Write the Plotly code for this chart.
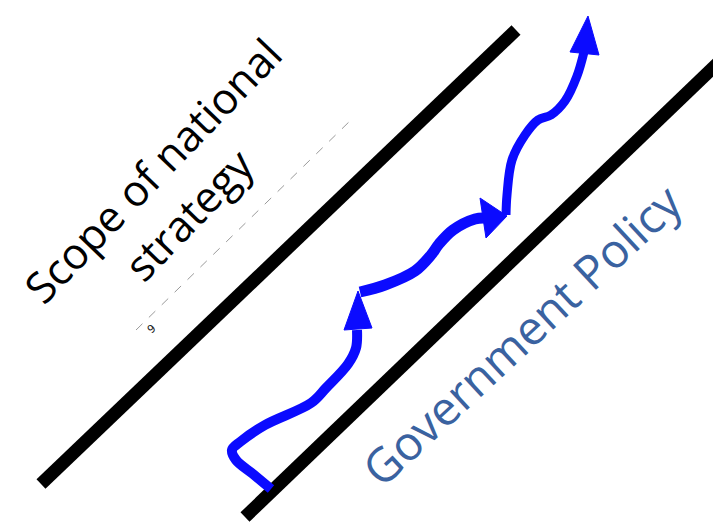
import plotly.graph_objects as go

W, H = 721, 528

# Black boundary lines (pixel coordinates, y downwards)
upper_x = [33, 508]
upper_y = [476, 22]
lower_x = [237, 710]
lower_y = [509, 55]

# Blue path segments
seg1_x = [263, 245, 228, 224, 232, 257, 303, 318, 340, 348, 349]
seg1_y = [481, 466, 452, 442, 434, 417, 395, 380, 356, 340, 322]
seg2_x = [352, 377, 407, 423, 431, 445, 467, 476]
seg2_y = [284, 277, 263, 247, 236, 222, 211, 210]
seg3_x = [498, 499, 504, 517, 530, 543, 557, 569, 576]
seg3_y = [207, 187, 152, 127, 112, 107, 93, 68, 44]

# Arrowheads (triangles)
head1_x = [350, 336, 364, 350]
head1_y = [283, 322, 320, 283]
head2_x = [499, 472, 478, 499]
head2_y = [208, 190, 230, 208]
head3_x = [580, 562, 591, 580]
head3_y = [8, 44, 47, 8]

# Dashed guide line
dash_x = [128, 345]
dash_y = [322, 110]

BLUE = "#0b0bff"
fig = go.Figure()

for xs, ys in [(upper_x, upper_y), (lower_x, lower_y)]:
    fig.add_trace(go.Scatter(x=xs, y=ys, mode="lines",
                             line=dict(color="black", width=13),
                             hoverinfo="skip", showlegend=False))

fig.add_trace(go.Scatter(x=dash_x, y=dash_y, mode="lines",
                         line=dict(color="#9a9a9a", width=1, dash="dash"),
                         hoverinfo="skip", showlegend=False))

for xs, ys, w in [(seg1_x, seg1_y, 10), (seg2_x, seg2_y, 11), (seg3_x, seg3_y, 9)]:
    fig.add_trace(go.Scatter(x=xs, y=ys, mode="lines",
                             line=dict(color=BLUE, width=w, shape="spline", smoothing=1.0),
                             hoverinfo="skip", showlegend=False))

for xs, ys in [(head1_x, head1_y), (head2_x, head2_y), (head3_x, head3_y)]:
    fig.add_trace(go.Scatter(x=xs, y=ys, mode="lines", fill="toself",
                             fillcolor=BLUE, line=dict(color=BLUE, width=1),
                             hoverinfo="skip", showlegend=False))

annotations = [
    dict(text="Scope of national", x=144, y=162, textangle=-46,
         font=dict(family="Open Sans", size=43, color="black")),
    dict(text="strategy", x=180, y=206, textangle=-46,
         font=dict(family="Open Sans", size=43, color="black")),
    dict(text="Government Policy", x=513, y=327, textangle=-43,
         font=dict(family="Open Sans", size=47, color="#3a62a0")),
    dict(text="9", x=143, y=321, textangle=-40,
         font=dict(family="DejaVu Sans", size=11, color="#222222")),
]
for a in annotations:
    a.update(xref="x", yref="y", showarrow=False, xanchor="center", yanchor="middle")

fig.update_layout(
    width=W, height=H,
    margin=dict(l=0, r=0, t=0, b=0),
    paper_bgcolor="white", plot_bgcolor="white",
    xaxis=dict(range=[0, W], visible=False, fixedrange=True),
    yaxis=dict(range=[H, 0], visible=False, fixedrange=True),
    annotations=annotations,
    showlegend=False,
)

fig.write_html("out.html")
